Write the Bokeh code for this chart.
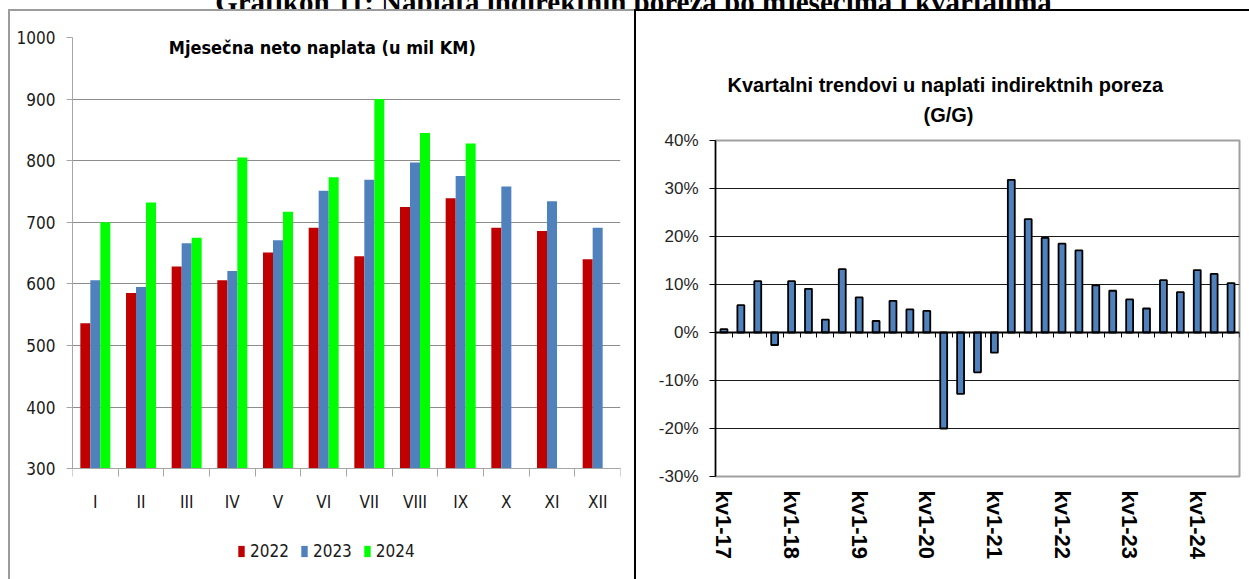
from bokeh.plotting import figure
from bokeh.models import (FixedTicker, Legend, LegendItem, Label, LinearAxis, Title,
                          PrintfTickFormatter, ColumnDataSource, Range1d, Div)
from bokeh.layouts import row, column
from bokeh.embed import file_html
from bokeh.resources import INLINE
from bokeh.transform import dodge

# ---------------- data ----------------
caption = "Grafikon 11: Naplata indirektnih poreza po mjesecima i kvartalima"

months = ["I", "II", "III", "IV", "V", "VI", "VII", "VIII", "IX", "X", "XI", "XII"]
naplata_2022 = [536, 585, 628, 606, 651, 691, 645, 725, 739, 691, 686, 640]
naplata_2023 = [606, 595, 666, 621, 671, 751, 769, 797, 775, 758, 734, 691]
naplata_2024 = [700, 732, 675, 805, 717, 773, 900, 845, 828]
years = ["2022", "2023", "2024"]

quarters = ["kv1-17", "kv2-17", "kv3-17", "kv4-17",
            "kv1-18", "kv2-18", "kv3-18", "kv4-18",
            "kv1-19", "kv2-19", "kv3-19", "kv4-19",
            "kv1-20", "kv2-20", "kv3-20", "kv4-20",
            "kv1-21", "kv2-21", "kv3-21", "kv4-21",
            "kv1-22", "kv2-22", "kv3-22", "kv4-22",
            "kv1-23", "kv2-23", "kv3-23", "kv4-23",
            "kv1-24", "kv2-24", "kv3-24"]
growth = [0.7, 5.7, 10.7, -2.6,
          10.7, 9.1, 2.7, 13.2,
          7.3, 2.4, 6.6, 4.8,
          4.5, -20.0, -12.8, -8.3,
          -4.2, 31.8, 23.6, 19.7,
          18.5, 17.1, 9.8, 8.7,
          6.9, 5.0, 10.9, 8.4,
          13.0, 12.2, 10.3]

# ---------------- styles ----------------
NARROW = "DejaVu Sans Condensed"
ARIAL = "Liberation Sans"
RED, BLUE, GREEN = "#C00000", "#4F81BD", "#00FF00"
FIG_H = 568

# ---------------- caption strip (top of the caption is cut off, as in the source) ----------------
cap = Div(text=('<div style="font-family: \'Liberation Serif\'; font-weight: bold; font-size: 29px; '
                'line-height: 29px; margin-top: -21px; text-align: center; white-space: nowrap; '
                'color: black; width: 1249px; position: relative; left: 9px;">' + caption + '</div>'),
          width=1249, height=9, margin=0, styles={"overflow": "hidden"})

# ---------------- left chart ----------------
centers = list(range(len(months)))
src = ColumnDataSource(dict(x=centers, a=naplata_2022, b=naplata_2023))
src24 = ColumnDataSource(dict(x=centers[:len(naplata_2024)], c=naplata_2024))

p1 = figure(width=624, height=FIG_H, x_range=Range1d(-0.5, 11.5), y_range=Range1d(120, 1000),
            output_backend="svg", toolbar_location=None, x_axis_location=None,
            min_border_left=62, min_border_right=14, min_border_top=26, min_border_bottom=0)
bw = 0.219
r1 = p1.vbar(x=dodge("x", -bw, range=p1.x_range), top="a", bottom=300, width=bw,
             source=src, fill_color=RED, line_color=None)
r2 = p1.vbar(x=dodge("x", 0, range=p1.x_range), top="b", bottom=300, width=bw,
             source=src, fill_color=BLUE, line_color=None)
r3 = p1.vbar(x=dodge("x", bw, range=p1.x_range), top="c", bottom=300, width=bw,
             source=src24, fill_color=GREEN, line_color=None)

p1.outline_line_color = None
p1.xgrid.visible = False
p1.ygrid.grid_line_color = "#8c8c8c"
p1.ygrid.grid_line_width = 1

p1.yaxis.ticker = FixedTicker(ticks=list(range(300, 1001, 100)))
p1.yaxis.bounds = (300, 1000)
p1.yaxis.axis_line_color = "#a6a6a6"
p1.yaxis.major_tick_line_color = "#a6a6a6"
p1.yaxis.major_tick_out = 6
p1.yaxis.major_tick_in = 0
p1.yaxis.minor_tick_line_color = None
p1.yaxis.major_label_text_font = NARROW
p1.yaxis.major_label_text_font_size = "17px"
p1.yaxis.major_label_text_color = "#1a1a1a"
p1.yaxis.major_label_standoff = 11

month_axis = LinearAxis(fixed_location=300,
                        ticker=FixedTicker(ticks=centers, minor_ticks=[c - 0.5 for c in centers] + [11.5]),
                        major_label_overrides={c: m for c, m in zip(centers, months)},
                        axis_line_color="#a6a6a6", major_tick_out=0, major_tick_in=0,
                        minor_tick_out=8, minor_tick_in=0, minor_tick_line_color="#a6a6a6",
                        major_label_text_font=NARROW, major_label_text_font_size="17px",
                        major_label_text_color="#1a1a1a", major_label_standoff=15)
p1.add_layout(month_axis, "below")

p1.add_layout(Label(x=4.97, y=984, text="Mjesečna neto naplata (u mil KM)",
                    text_align="center", text_baseline="middle",
                    text_font=NARROW, text_font_style="bold", text_font_size="18px",
                    text_color="black"))

legend = Legend(items=[LegendItem(label=years[0], renderers=[r1]),
                       LegendItem(label=years[1], renderers=[r2]),
                       LegendItem(label=years[2], renderers=[r3])],
                orientation="horizontal", location=(165, 18),
                glyph_width=8, glyph_height=14, label_standoff=5, spacing=11,
                label_text_font=NARROW, label_text_font_size="17px",
                label_text_color="#1a1a1a",
                border_line_color=None, background_fill_alpha=0, padding=4, margin=0)
p1.add_layout(legend)

# ---------------- right chart ----------------
qx = [i + 0.5 for i in range(len(quarters))]
qsrc = ColumnDataSource(dict(x=qx, g=growth))

p2 = figure(width=613, height=FIG_H, x_range=Range1d(0, len(quarters)), y_range=Range1d(-30, 40),
            output_backend="svg", toolbar_location=None,
            min_border_left=79, min_border_right=10, min_border_top=129, min_border_bottom=103)
p2.vbar(x="x", top="g", bottom=0, width=0.41, source=qsrc,
        fill_color=BLUE, line_color="black", line_width=1.8)

p2.outline_line_color = "#a0a0a0"
p2.outline_line_width = 2
p2.xgrid.visible = False
p2.ygrid.grid_line_color = "#1a1a1a"
p2.ygrid.grid_line_width = 1

p2.yaxis.ticker = FixedTicker(ticks=list(range(-30, 41, 10)))
p2.yaxis.formatter = PrintfTickFormatter(format="%d%%")
p2.yaxis.axis_line_color = "black"
p2.yaxis.axis_line_width = 1.5
p2.yaxis.major_tick_line_color = "black"
p2.yaxis.major_tick_out = 6
p2.yaxis.major_tick_in = 0
p2.yaxis.minor_tick_line_color = None
p2.yaxis.major_label_text_font = ARIAL
p2.yaxis.major_label_text_font_size = "17px"
p2.yaxis.major_label_text_color = "#262626"
p2.yaxis.major_label_standoff = 11

kv1_pos = [qx[i] for i, q in enumerate(quarters) if q.startswith("kv1")]
p2.xaxis.ticker = FixedTicker(ticks=kv1_pos)
p2.xaxis.major_label_overrides = {qx[i]: q for i, q in enumerate(quarters) if q.startswith("kv1")}
p2.xaxis.major_label_orientation = "vertical"
p2.xaxis.axis_line_color = None
p2.xaxis.major_tick_out = 0
p2.xaxis.major_tick_in = 0
p2.xaxis.minor_tick_line_color = None
p2.xaxis.major_label_text_font = ARIAL
p2.xaxis.major_label_text_font_style = "bold"
p2.xaxis.major_label_text_font_size = "22px"
p2.xaxis.major_label_text_color = "black"
p2.xaxis.major_label_standoff = 14

zero_axis = LinearAxis(fixed_location=0, ticker=FixedTicker(ticks=list(range(len(quarters) + 1))),
                       major_tick_out=5, major_tick_in=0, major_label_text_font_size="0px",
                       axis_line_color="black", axis_line_width=1.8,
                       major_tick_line_color="black", minor_tick_line_color=None)
p2.add_layout(zero_axis, "below")

p2.add_layout(Title(text="(G/G)", align="left", offset=208, standoff=29,
                    text_font=ARIAL, text_font_style="bold", text_font_size="20px",
                    text_color="black"), "above")
p2.add_layout(Title(text="Kvartalni trendovi u naplati indirektnih  poreza", align="left",
                    offset=12, standoff=-17,
                    text_font=ARIAL, text_font_style="bold", text_font_size="20px",
                    text_color="black"), "above")

# ---------------- panel border lines ----------------
pad_left = Div(text="", width=8, height=FIG_H + 2, margin=0)
v_gray = Div(text="", width=2, height=FIG_H + 2, margin=0,
             styles={"background-color": "#9c9c9c"})
h_gray = Div(text="", width=624, height=2, margin=0,
             styles={"background-color": "#9c9c9c"})
v_black = Div(text="", width=2, height=FIG_H + 2, margin=0,
              styles={"background-color": "#000000"})
h_black = Div(text="", width=613, height=2, margin=0,
              styles={"background-color": "#000000"})

layout = column(cap,
                row(pad_left, v_gray, column(h_gray, p1, spacing=0), v_black,
                    column(h_black, p2, spacing=0), spacing=0),
                spacing=0)
open("out.html", "w").write(file_html(layout, INLINE))
